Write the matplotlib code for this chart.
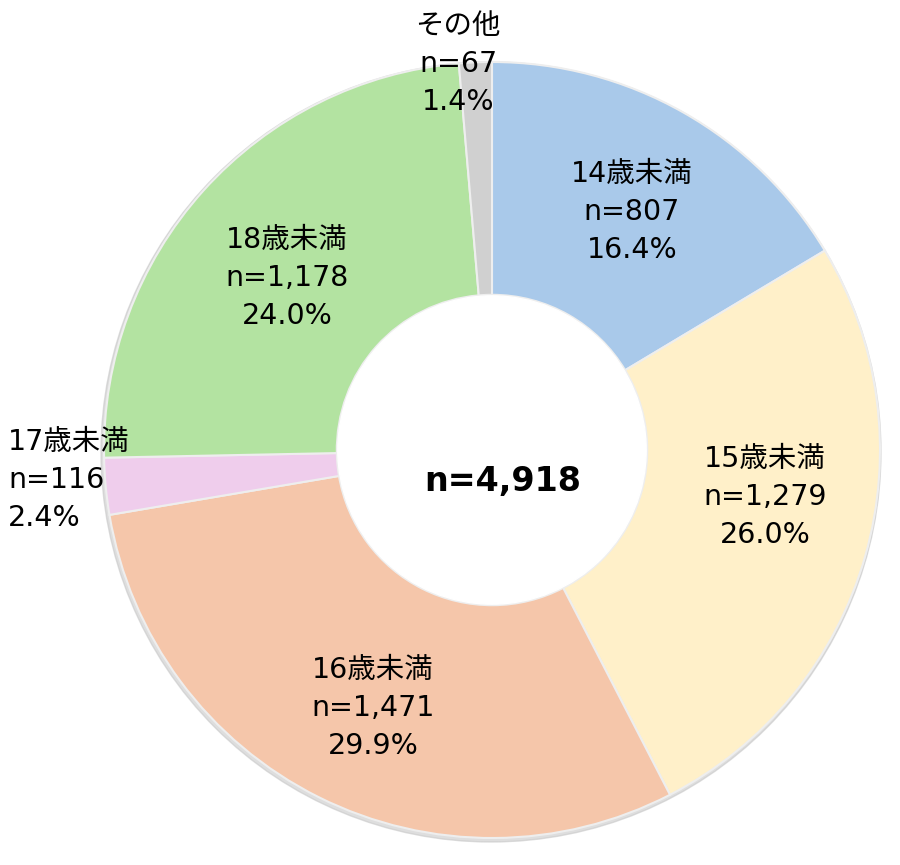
import matplotlib
matplotlib.use('Agg')
from matplotlib import pyplot as plt

labels = ['14歳未満', '15歳未満', '16歳未満', '17歳未満', '18歳未満', 'その他']
counts = [807, 1279, 1471, 116, 1178, 67]
percents = ['16.4%', '26.0%', '29.9%', '2.4%', '24.0%', '1.4%']
colors = ['#A9C9EA', '#FFF0C9', '#F5C6AA', '#EFCDEC', '#B3E3A1', '#D0D0D0']
total_label = 'n=4,918'

plt.rcParams['font.family'] = ['DejaVu Sans', 'Noto Sans CJK JP']

fig = plt.figure(figsize=(9, 8.65), dpi=100)
ax = fig.add_axes([0, 0, 1, 1])

cx, cy = 492, 415
radius = 388
hole = radius * 0.4

# faint shadow ring behind the donut
ax.add_patch(plt.Circle((cx - 1, cy - 2), radius + 2, color='#C8C8C8', alpha=0.6, zorder=0))

wedges, _ = ax.pie(counts, colors=colors, startangle=90, counterclock=False,
                   center=(cx, cy), radius=radius, frame=True,
                   wedgeprops=dict(width=radius - hole, edgecolor='#EEEEEE', linewidth=1.5))
# keep the hole clean
ax.add_patch(plt.Circle((cx, cy), hole - 1, color='white', zorder=5))

ax.set_xlim(0, 900)
ax.set_ylim(0, 865)
ax.set_aspect('equal')
ax.axis('off')

texts = [f'{lab}\nn={c:,}\n{p}' for lab, c, p in zip(labels, counts, percents)]

# label placement (pixels from bottom-left), matched to the original layout
label_pos = [(632, 653, 'center'), (765, 368, 'center'), (373, 157, 'center'),
             (8, 385, 'left'), (287, 587, 'center'), (458, 801, 'center')]
for t, (x, y, ha) in zip(texts, label_pos):
    ax.text(x, y, t, ha=ha, va='center', fontsize=20.5, linespacing=1.45,
            color='black', zorder=6)

ax.text(cx + 11, cy - 32, total_label, ha='center', va='center', fontsize=24,
        fontweight='bold', zorder=6)

plt.savefig('out.png', facecolor='white')
plt.close()
